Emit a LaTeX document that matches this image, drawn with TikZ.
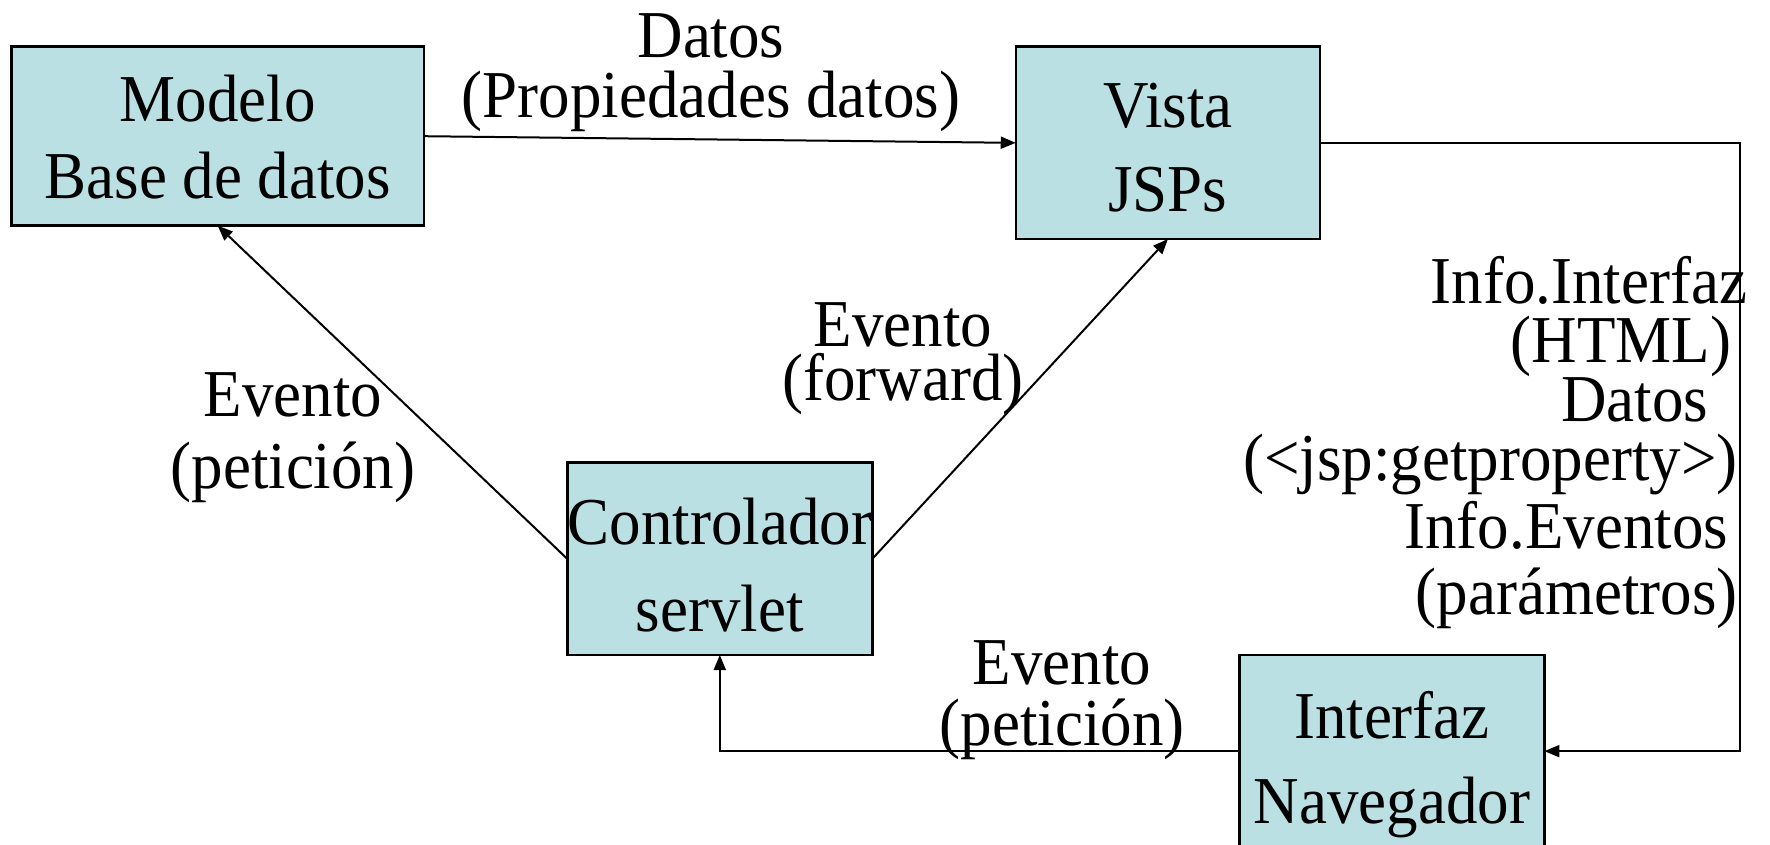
\documentclass[tikz,border=0pt]{standalone}
\usepackage{fontspec}
\setmainfont{Liberation Serif}[FakeStretch=0.94]
\usetikzlibrary{arrows.meta}
\definecolor{boxfill}{RGB}{187,224,227}
\newcommand\Hs[1]{\rule{0pt}{#1pt}}
\newcommand\Ds[1]{\rule[-#1pt]{0pt}{#1pt}}
\newcommand\fs[1]{\fontsize{67}{#1}\selectfont\lineskiplimit=-1000pt\relax}
\begin{document}
\begin{tikzpicture}[x=1pt,y=-1pt,
  mvcbox/.style={draw=black, line width=2.5pt, fill=boxfill, inner sep=0pt, outer sep=0pt, align=center},
  lbl/.style={inner sep=0pt, outer sep=0pt},
  conn/.style={line width=2pt, -{Triangle[length=15pt,width=12pt]}}]
\useasboundingbox (0,0) rectangle (1770,844);
\clip (0,0) rectangle (1770,844);
\fill[white] (0,0) rectangle (1770,844);

% boxes
\node[mvcbox, minimum width=412.5pt, minimum height=179pt, font=\fs{76.3}]
  (modelo) at (217.75,136.2) {\Hs{52.3}Modelo\\Base de datos\Ds{5}};
\node[mvcbox, minimum width=304.3pt, minimum height=192.3pt, font=\fs{84.2}]
  (vista) at (1167.9,142.85) {\Hs{58.1}Vista\\JSPs\Ds{5}};
\node[mvcbox, minimum width=305pt, minimum height=192.3pt, font=\fs{87}]
  (ctrl) at (719.8,558.85) {\Hs{62.3}Controlador\\servlet\Ds{5}};
\node[mvcbox, minimum width=305pt, minimum height=192.3pt, font=\fs{85}]
  (interfaz) at (1391.9,751.15) {\Hs{78.7}Interfaz\\Navegador\Ds{20}};

% labels
\node[lbl, align=center, font=\fs{60}] (ldatos) at (711,72.5)
  {\Hs{50}Datos\\(Propiedades datos)\Ds{20}};
\node[lbl, align=center, font=\fs{72}] (lpeticion) at (293,437)
  {\Hs{50}Evento\\(petición)\Ds{20}};
\node[lbl, align=center, font=\fs{54}] (lforward) at (903,358)
  {\Hs{50}Evento\\(forward)\Ds{20}};
\node[lbl, align=center, font=\fs{61}] (lpeticion2) at (1062,699.5)
  {\Hs{50}Evento\\(petición)\Ds{20}};
\node[lbl, align=right, anchor=east, font=\fs{58}] (linfo) at (1740,443.5)
  {\Hs{50}Info.Interfaz\kern-7pt\\[1pt]
   (HTML)\kern9pt\\[1.7pt]
   Datos\kern32pt\\[0.3pt]
   (<jsp:getproperty>)\kern2.5pt\\[10pt]
   Info.Eventos\kern12pt\\[8pt]
   (parámetros)\kern2.5pt\Ds{20}};

% connectors
\coordinate (rt) at (1740,0);
\draw[conn] (modelo.east) -- (vista.west);
\draw[conn] (ctrl.west) -- (modelo.south);
\draw[conn] (ctrl.east) -- (vista.south);
\draw[conn] (interfaz.west) -| (ctrl.south);
\draw[conn] (vista.east) -- (vista.east -| rt) -- (interfaz.east -| rt) -- (interfaz.east);
\end{tikzpicture}
\end{document}
